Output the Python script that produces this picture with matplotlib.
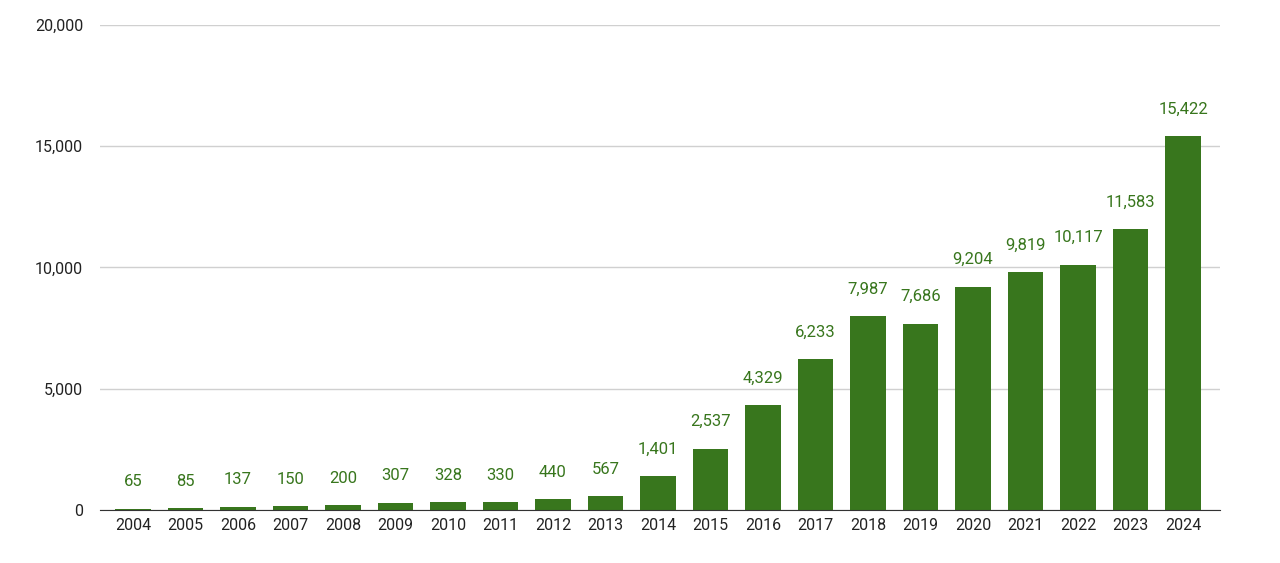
import matplotlib
matplotlib.use("Agg")
import matplotlib.pyplot as plt
from matplotlib.ticker import FuncFormatter

years = [str(y) for y in range(2004, 2025)]
values = [65, 85, 137, 150, 200, 307, 328, 330, 440, 567, 1401, 2537, 4329,
          6233, 7987, 7686, 9204, 9819, 10117, 11583, 15422]
yticks = [0, 5000, 10000, 15000, 20000]

plt.rcParams["font.family"] = "Roboto"
fig = plt.figure(figsize=(12.8, 5.63), dpi=100)
ax = fig.add_axes([0.078, 0.094, 0.875, 0.862])
x = range(len(years))
ax.bar(x, values, width=0.67, color="#38761d", zorder=3)
for i, v in enumerate(values):
    ax.annotate(f"{v:,}", (i, v), xytext=(0, 14), textcoords="offset points",
                ha="center", va="bottom", color="#38761d", fontsize=12)
ax.set_xticks(list(x))
ax.set_xticklabels(years, fontsize=11.5, color="#222222")
ax.set_yticks(yticks)
ax.yaxis.set_major_formatter(FuncFormatter(lambda v, p: f"{int(v):,}"))
ax.tick_params(axis="y", labelsize=11.5, labelcolor="#222222", length=0, pad=12)
ax.tick_params(axis="x", length=0, pad=6)
ax.set_ylim(0, 20000)
ax.set_xlim(-0.63, len(years) - 1 + 0.7)
ax.grid(axis="y", color="#d0d0d0", linewidth=1, zorder=0)
for s in ["top", "right", "left"]:
    ax.spines[s].set_visible(False)
ax.spines["bottom"].set_color("#333333")
ax.spines["bottom"].set_zorder(4)
fig.savefig("out.png", dpi=100)
